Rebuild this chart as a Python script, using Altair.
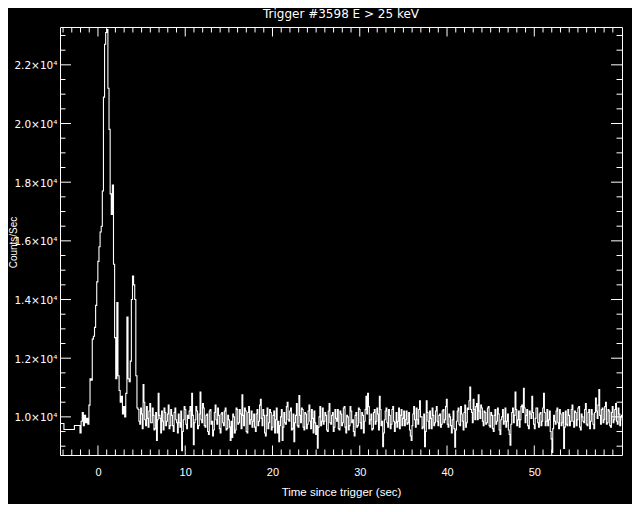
import altair as alt
import pandas as pd

# ---- data ----
# pre-trigger coarse bins (start times, counts/s)
pre_t = [-4.35, -3.9, -2.7]
pre_c = [9775, 9570, 9706]

# burst region, fine bins starting at -2.06 s
peak_t0 = -2.06
peak_dt = 0.128
peak_c = [
    9450, 9850, 10150, 9700, 10050, 9800, 9950, 9750, 10400, 11300,
    11250, 12650, 12750, 13050, 13800, 14600, 15300, 15800, 16300, 16500,
    17700, 20900, 22700, 23100, 23200, 21200, 19800, 17600, 16900, 17900,
    15200, 12700, 11300, 13900, 11400, 10900, 10500, 10700, 10100, 10350,
    10000, 10800, 13400, 11300, 11200, 11900, 14000, 14800, 14500, 14000,
    11400, 10300,
]

# background tail: bins of tail_dt, each split in two half-bins (a, b)
tail_t0 = 4.596
tail_dt = 0.192
tail_a = [
    10250, 9750, 10100, 11100, 9900, 10350, 9650, 10450, 9800, 10050,
    9600, 9200, 10800, 9950, 10200, 9550, 10150, 9850, 10400, 9700,
    10050, 9500, 10300, 9800, 10100, 9650, 8850, 9900, 10250, 9600,
    9950, 10350, 10800, 9050, 9900, 10200, 9700, 10850, 9800, 10300,
    9650, 10100, 9400, 10250, 9850, 9550, 10400, 9750, 10050, 9450,
    10150, 9700, 10300, 9600, 9900, 9200, 9300, 10000, 9550, 10250,
    9800, 10100, 10750, 9700, 10200, 9450, 10350, 9900, 9650, 10100,
    9500, 10250, 9850, 10600, 9700, 10050, 9350, 10300, 9800, 10150,
    9650, 10200, 9900, 9450, 9150, 10000, 9200, 10150, 9750, 10500,
    9850, 10300, 9600, 9150, 10050, 9700, 10730, 9800, 10250, 9550,
    10100, 9750, 10400, 9600, 9950, 10200, 9400, 8930, 10000, 9700,
    10300, 9850, 10050, 9500, 10450, 9750, 10150, 9650, 9950, 10250,
    9550, 10100, 9800, 10350, 9450, 10000, 9700, 10200, 9900, 9350,
    10150, 9700, 10250, 9600, 10050, 9850, 10700, 10800, 9750, 10100,
    9600, 10250, 9850, 10100, 10700, 9700, 8980, 9900, 10300, 9650,
    10050, 9750, 10350, 9500, 10150, 9850, 9600, 10250, 9950, 9700,
    10200, 9800, 9550, 9200, 10100, 9900, 10300, 9750, 10550, 10000,
    9650, 8980, 10550, 9850, 10200, 9600, 10050, 9800, 10350, 9700,
    10100, 9750, 10250, 9900, 10600, 9650, 10000, 9450, 10200, 8970,
    9850, 10300, 9700, 10100, 9550, 10400, 9800, 10250, 11020, 10150,
    10600, 9900, 10450, 10750, 9950, 10300, 9700, 10150, 9800, 10350,
    9650, 10050, 9500, 10250, 9850, 10100, 9400, 10000, 9750, 10300,
    9850, 9550, 9030, 10150, 9800, 10850, 9700, 10200, 9900, 10400,
    10970, 9800, 10250, 9600, 10100, 10700, 9750, 9950, 10300, 9650,
    10150, 9850, 10800, 9700, 10250, 9900, 9500, 8790, 10050, 9750,
    10300, 9600, 10100, 9800, 8920, 10200, 9700, 10050, 9850, 10400,
    9650, 10150, 9900, 10350, 9550, 10000, 9800, 10450, 9700, 10250,
    9850, 10100, 9600, 10640, 9950, 10930, 9750, 10300, 9900, 10500,
    9800, 10200, 9650, 10350, 9900, 10450, 9750, 10100, 10000, 9900,
]
tail_b = [
    9850, 10300, 9600, 10500, 9700, 9950, 10200, 9800, 10300, 9550,
    10150, 9900, 10050, 9450, 9850, 10300, 9700, 10100, 9600, 10250,
    9700, 10150, 9900, 9450, 9800, 10200, 9500, 10350, 9750, 10050,
    10200, 9650, 10050, 9800, 10350, 9600, 10100, 9900, 10450, 9700,
    10050, 9500, 10200, 9750, 9350, 10150, 9900, 10300, 9600, 10100,
    9800, 10200, 9550, 10050, 9650, 9850, 10100, 9450, 10300, 9750,
    10250, 9600, 10050, 10300, 9500, 10150, 9750, 10200, 9850, 9650,
    10100, 9700, 10400, 9950, 10250, 9450, 10050, 9600, 10250, 9550,
    10050, 9450, 10300, 9850, 9700, 10250, 9650, 9800, 10350, 9900,
    10200, 9550, 10100, 9800, 10450, 9650, 10050, 10300, 9650, 10150,
    9600, 10200, 9850, 10250, 9450, 9800, 9700, 9650, 10350, 9850,
    9750, 10150, 9550, 10200, 9800, 10050, 9500, 10250, 9850, 9600,
    10200, 9700, 10300, 9650, 10050, 9550, 10350, 9800, 9500, 10050,
    9650, 10300, 9800, 10150, 9450, 10250, 10100, 10350, 9900, 9550,
    10150, 9750, 10300, 9550, 10250, 9850, 9450, 10200, 9800, 10250,
    9600, 10250, 9850, 9800, 9650, 10300, 10050, 9700, 10200, 9900,
    9750, 10150, 9350, 9700, 10350, 9650, 9900, 10250, 10000, 9600,
    10100, 9500, 10150, 9600, 9950, 10300, 9700, 10200, 9850, 10050,
    9650, 10200, 9800, 10350, 9750, 10100, 9700, 9900, 9600, 9550,
    10200, 9750, 10350, 9850, 10150, 9650, 10300, 10550, 10250, 9800,
    10250, 10350, 9900, 10200, 10400, 9850, 10200, 9750, 10300, 9700,
    10150, 9600, 10050, 9750, 10300, 9550, 9900, 10250, 9850, 9650,
    10100, 9400, 9750, 10300, 10050, 10250, 9900, 9650, 10350, 10150,
    10300, 10050, 9700, 10200, 9950, 10150, 9600, 10300, 9800, 10100,
    9700, 10300, 10150, 9850, 9700, 10200, 9250, 9600, 9850, 10200,
    9800, 10250, 9700, 10150, 9650, 9750, 10250, 9700, 10250, 9850,
    10200, 9700, 10300, 9650, 10100, 9850, 10250, 9750, 10150, 9600,
    10250, 9750, 10150, 10200, 10400, 10050, 10250, 9800, 10350, 9750,
    10250, 9700, 10150, 9800, 10250, 9850, 10300, 9700, 10050, 9850,
]

x_major = [0, 10, 20, 30, 40, 50]
x_minor = [v for v in range(-4, 60) if v % 10 != 0]
y_major = [10000, 12000, 14000, 16000, 18000, 20000, 22000]
y_minor = [v for v in range(9000, 23001, 500) if v not in y_major]

x_domain = [-4.35, 60.05]
y_domain = [8700, 23290]

title_text = "Trigger #3598 E > 25 keV"
x_title = "Time since trigger (sec)"
y_title = "Counts/Sec"

# ---- build table ----
times = list(pre_t)
counts = list(pre_c)
for i, c in enumerate(peak_c):
    times.append(round(peak_t0 + i * peak_dt, 4))
    counts.append(c)
for j, (ca, cb) in enumerate(zip(tail_a, tail_b)):
    times.append(round(tail_t0 + j * tail_dt, 4))
    counts.append(ca)
    times.append(round(tail_t0 + j * tail_dt + tail_dt / 2, 4))
    counts.append(cb)
df = pd.DataFrame({"t": times, "c": counts})

W, H = 562, 428
FONT = "Liberation Sans"
FONT2 = "DejaVu Sans"
xs = alt.Scale(domain=x_domain, nice=False, zero=False)
ys = alt.Scale(domain=y_domain, nice=False, zero=False)

x_axis = alt.Axis(
    values=x_major, title=x_title, ticks=False, domain=False, grid=False,
    labelColor="white", labelFont=FONT, labelFontSize=11, labelPadding=11,
    titleColor="white", titleFont=FONT, titleFontSize=11.5,
    titleFontWeight="normal", titlePadding=9)
y_axis = alt.Axis(
    values=y_major, ticks=False, domain=False, grid=False,
    labelExpr="format(datum.value / 10000, '.1f') + '×10⁴'",
    labelColor="white", labelFont=FONT2, labelFontSize=10.5, labelPadding=3,
    labelOffset=1,
    title=y_title, titleColor="white", titleFont=FONT, titleFontSize=10,
    titleFontWeight="normal", titleAngle=270, titleX=-47, titleY=215,
    titleAlign="center", titleBaseline="middle")

line = alt.Chart(df).mark_line(
    interpolate="step-after", color="white", strokeWidth=1.1, clip=True
).encode(
    x=alt.X("t:Q", scale=xs, axis=x_axis),
    y=alt.Y("c:Q", scale=ys, axis=y_axis),
)


def xticks(vals, y0, y1):
    return alt.Chart(pd.DataFrame({"t": vals})).mark_rule(
        color="white", strokeWidth=1
    ).encode(
        x=alt.X("t:Q", scale=xs, axis=x_axis),
        y=alt.value(y0), y2=alt.value(y1),
    )


def yticks(vals, x0, x1):
    return alt.Chart(pd.DataFrame({"c": vals})).mark_rule(
        color="white", strokeWidth=1
    ).encode(
        y=alt.Y("c:Q", scale=ys, axis=y_axis),
        x=alt.value(x0), x2=alt.value(x1),
    )


chart = alt.layer(
    line,
    xticks(x_major, H, H - 9.5),
    xticks(x_minor, H, H - 5.5),
    xticks(x_major, 0, 9.5),
    xticks(x_minor, 0, 5.5),
    yticks(y_major, 0, 11),
    yticks(y_minor, 0, 5.5),
    yticks(y_major, W, W - 11),
    yticks(y_minor, W, W - 5.5),
).properties(
    width=W, height=H,
    autosize="none",
    padding={"left": 52, "top": 19, "right": 10, "bottom": 49},
    background="black",
    title=alt.TitleParams(title_text, color="white", font=FONT2, fontSize=12,
                          fontWeight="normal", anchor="middle", offset=6),
).configure_view(stroke="white", strokeWidth=1)

chart.save("out.html", embed_options={"renderer": "svg", "actions": False})
